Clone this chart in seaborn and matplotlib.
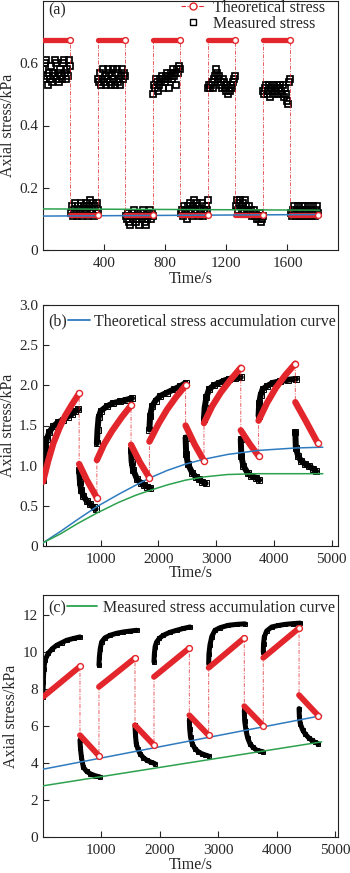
import matplotlib
matplotlib.use('Agg')
import matplotlib.pyplot as plt
from matplotlib.lines import Line2D
import seaborn as sns
import pandas as pd
import numpy as np

RED = '#e3262b'
BLUE = '#2f7bbf'
GREEN = '#2ca24e'
DASHDOT = (0, (4, 1.5, 1, 1.5))

# ---------------- panel (a): 180 s load / unload phases ----------------
a_edges = [0, 180, 360, 540, 720, 900, 1080, 1260, 1440, 1620, 1800]
a_theory = [0.675, 0.112, 0.675, 0.112, 0.675, 0.112, 0.675, 0.112, 0.675, 0.112]
a_measured = [
    [0.58, 0.55, 0.60, 0.61, 0.56, 0.53, 0.57, 0.55, 0.59, 0.54, 0.57, 0.56, 0.61, 0.60,
     0.55, 0.57, 0.54, 0.58, 0.56, 0.55, 0.60, 0.61, 0.57, 0.55, 0.58, 0.56, 0.61, 0.59],
    [0.12, 0.14, 0.11, 0.13, 0.15, 0.12, 0.11, 0.14, 0.13, 0.12, 0.15, 0.11, 0.13, 0.14,
     0.12, 0.15, 0.13, 0.11, 0.14, 0.16, 0.12, 0.13, 0.15, 0.11, 0.14, 0.12, 0.15, 0.13],
    [0.55, 0.54, 0.57, 0.53, 0.55, 0.58, 0.54, 0.56, 0.53, 0.55, 0.58, 0.57, 0.54, 0.53,
     0.56, 0.58, 0.55, 0.53, 0.57, 0.58, 0.54, 0.55, 0.53, 0.56, 0.58, 0.55, 0.57, 0.56],
    [0.11, 0.10, 0.12, 0.09, 0.08, 0.11, 0.12, 0.10, 0.13, 0.11, 0.09, 0.10, 0.12, 0.08,
     0.11, 0.12, 0.10, 0.13, 0.11, 0.09, 0.08, 0.10, 0.12, 0.11, 0.13, 0.10, 0.12, 0.11],
    [0.50, 0.53, 0.52, 0.55, 0.54, 0.51, 0.53, 0.55, 0.54, 0.56, 0.52, 0.55, 0.54, 0.56,
     0.57, 0.55, 0.52, 0.56, 0.57, 0.55, 0.58, 0.56, 0.57, 0.53, 0.58, 0.57, 0.59, 0.58],
    [0.12, 0.13, 0.11, 0.14, 0.12, 0.13, 0.10, 0.14, 0.12, 0.15, 0.13, 0.11, 0.14, 0.16,
     0.13, 0.12, 0.15, 0.14, 0.11, 0.13, 0.12, 0.15, 0.11, 0.13, 0.12, 0.14, 0.13, 0.16],
    [0.52, 0.53, 0.52, 0.53, 0.54, 0.52, 0.55, 0.56, 0.58, 0.57, 0.55, 0.56, 0.53, 0.54,
     0.52, 0.55, 0.54, 0.52, 0.51, 0.53, 0.50, 0.52, 0.51, 0.53, 0.52, 0.54, 0.55, 0.56],
    [0.14, 0.16, 0.13, 0.15, 0.16, 0.14, 0.12, 0.15, 0.13, 0.16, 0.14, 0.12, 0.13, 0.14,
     0.12, 0.13, 0.11, 0.12, 0.13, 0.11, 0.12, 0.10, 0.11, 0.10, 0.12, 0.09, 0.10, 0.11],
    [0.51, 0.50, 0.52, 0.53, 0.50, 0.51, 0.53, 0.49, 0.52, 0.51, 0.53, 0.50, 0.52, 0.51,
     0.53, 0.50, 0.52, 0.53, 0.51, 0.50, 0.53, 0.49, 0.52, 0.50, 0.48, 0.47, 0.54, 0.55],
    [0.12, 0.11, 0.13, 0.14, 0.12, 0.11, 0.13, 0.14, 0.12, 0.11, 0.13, 0.14, 0.11, 0.12,
     0.14, 0.13, 0.11, 0.12, 0.14, 0.13, 0.11, 0.12, 0.14, 0.12, 0.11, 0.13, 0.14, 0.12],
]
a_acc_t = [0, 1810]
a_acc_theory = [0.109, 0.114]
a_acc_measured = [0.132, 0.128]

# ---------------- panel (b) ----------------
b_theory_t = [
    [0, 90, 180, 280, 383, 500, 626], [626, 760, 933],
    [933, 1060, 1194, 1360, 1525], [1525, 1680, 1843],
    [1843, 2000, 2150, 2310, 2470], [2470, 2630, 2788],
    [2788, 2930, 3078, 3250, 3426], [3426, 3580, 3734],
    [3734, 3880, 4035, 4200, 4371], [4371, 4557, 4760],
]
b_theory_v = [
    [0.80, 1.06, 1.28, 1.46, 1.62, 1.76, 1.90], [1.02, 0.82, 0.60],
    [1.07, 1.27, 1.43, 1.60, 1.75], [1.26, 1.04, 0.85],
    [1.30, 1.52, 1.70, 1.86, 2.00], [1.50, 1.26, 1.06],
    [1.53, 1.74, 1.91, 2.07, 2.22], [1.44, 1.27, 1.12],
    [1.56, 1.78, 1.97, 2.13, 2.27], [1.79, 1.55, 1.28],
]
b_meas_t = [
    [0],
    [0, 15, 40, 64, 110, 180, 260, 353, 430, 499, 560, 614],
    [626, 640, 660, 701, 760, 817, 880, 910],
    [933, 945, 963, 1000, 1107, 1220, 1339, 1440, 1542],
    [1525, 1535, 1560, 1630, 1690, 1744, 1800, 1861],
    [1843, 1855, 1890, 1950, 2035, 2150, 2267, 2380, 2470],
    [2470, 2480, 2510, 2586, 2650, 2701, 2760, 2817],
    [2788, 2800, 2830, 2875, 2960, 3049, 3140, 3223, 3330, 3426],
    [3426, 3435, 3470, 3543, 3610, 3687, 3744],
    [3734, 3745, 3770, 3804, 3880, 3977, 4100, 4250, 4383],
    [4371, 4380, 4420, 4470, 4540, 4614, 4680, 4730],
]
b_meas_v = [
    [0.03],
    [0.82, 1.05, 1.22, 1.33, 1.42, 1.49, 1.54, 1.57, 1.61, 1.64, 1.68, 1.70],
    [0.95, 0.80, 0.70, 0.62, 0.56, 0.52, 0.48, 0.46],
    [1.28, 1.45, 1.60, 1.68, 1.74, 1.78, 1.80, 1.82, 1.84],
    [1.20, 1.05, 0.95, 0.83, 0.79, 0.76, 0.74, 0.72],
    [1.45, 1.62, 1.74, 1.81, 1.87, 1.91, 1.95, 1.99, 2.03],
    [1.35, 1.15, 1.02, 0.91, 0.86, 0.83, 0.80, 0.78],
    [1.58, 1.72, 1.85, 1.95, 2.00, 2.03, 2.06, 2.08, 2.09, 2.10],
    [1.33, 1.12, 1.00, 0.91, 0.87, 0.85, 0.82],
    [1.62, 1.78, 1.88, 1.95, 1.99, 2.03, 2.05, 2.07, 2.08],
    [1.42, 1.22, 1.12, 1.06, 1.02, 0.99, 0.96, 0.93],
]
b_acc_t = [0, 300, 600, 933, 1300, 1600, 1843, 2150, 2470, 2788, 3200, 3734, 4371, 4847]
b_acc_theory = [0.04, 0.18, 0.33, 0.49, 0.64, 0.755, 0.845, 0.94, 1.02, 1.08, 1.14, 1.19, 1.22, 1.23]
b_acc_measured = [0.04, 0.15, 0.28, 0.41, 0.54, 0.63, 0.69, 0.76, 0.82, 0.86, 0.89, 0.90, 0.90, 0.90]

# ---------------- panel (c) ----------------
c_theory_t = [
    [0, 633], [633, 958], [958, 1575], [1575, 1900], [1900, 2505],
    [2505, 2836], [2836, 3446], [3446, 3771], [3771, 4383], [4383, 4713],
]
c_theory_v = [
    [7.58, 9.23], [5.51, 4.39], [8.13, 9.69], [6.05, 4.97], [8.67, 10.23],
    [6.59, 5.50], [9.16, 10.78], [7.08, 6.02], [9.70, 11.31], [7.68, 6.57],
]
c_meas_t = [
    [0, 5, 15, 34, 91, 162, 234, 323, 405, 525, 633],
    [633, 641, 657, 690, 747, 805, 889, 976],
    [958, 965, 980, 1004, 1060, 1147, 1262, 1376, 1495, 1604],
    [1575, 1581, 1596, 1626, 1660, 1717, 1775, 1848, 1917],
    [1900, 1906, 1919, 1944, 1990, 2060, 2172, 2288, 2404, 2517],
    [2505, 2511, 2525, 2555, 2602, 2656, 2717, 2778, 2836],
    [2836, 2840, 2858, 2889, 2944, 3030, 3172, 3313, 3458],
    [3446, 3452, 3474, 3505, 3543, 3596, 3658, 3717, 3771],
    [3771, 3775, 3788, 3828, 3915, 4030, 4143, 4272, 4400],
    [4383, 4389, 4404, 4444, 4485, 4545, 4600, 4656, 4713],
]
c_meas_v = [
    [7.60, 8.40, 9.10, 9.57, 9.95, 10.20, 10.38, 10.52, 10.65, 10.75, 10.83],
    [5.24, 4.80, 4.34, 3.78, 3.55, 3.43, 3.32, 3.25],
    [9.30, 9.75, 10.20, 10.56, 10.78, 10.92, 11.03, 11.10, 11.15, 11.19],
    [6.05, 5.60, 5.05, 4.75, 4.51, 4.30, 4.16, 4.05, 3.97],
    [9.48, 9.90, 10.30, 10.55, 10.75, 10.92, 11.08, 11.19, 11.29, 11.37],
    [6.32, 5.85, 5.41, 5.05, 4.78, 4.62, 4.51, 4.44, 4.38],
    [9.37, 9.90, 10.40, 10.85, 11.19, 11.33, 11.46, 11.51, 11.54],
    [6.86, 6.30, 5.78, 5.35, 5.05, 4.85, 4.70, 4.65, 4.61],
    [10.01, 10.45, 10.83, 11.15, 11.37, 11.45, 11.51, 11.55, 11.58],
    [6.95, 6.50, 6.14, 5.80, 5.59, 5.38, 5.24, 5.13, 5.05],
]
c_acc_t = [0, 4770]
c_acc_theory = [3.67, 6.57]
c_acc_measured = [2.77, 5.15]


def seg_frame(ts, vs):
    rows = []
    for i, (t, v) in enumerate(zip(ts, vs)):
        rows += [(i, a, b) for a, b in zip(t, v)]
    return pd.DataFrame(rows, columns=['seg', 't', 'v'])


def draw_theory(ax, ts, vs, lw, ms):
    df = seg_frame(ts, vs)
    # thin dash-dot line through all segments gives the vertical jumps
    sns.lineplot(data=df, x='t', y='v', sort=False, estimator=None, color=RED,
                 lw=0.7, linestyle=DASHDOT, alpha=0.75, ax=ax, zorder=3)
    sns.lineplot(data=df, x='t', y='v', units='seg', sort=False, estimator=None,
                 color=RED, lw=lw, solid_capstyle='round', ax=ax, zorder=3)
    ends = df.groupby('seg').last().reset_index()
    sns.lineplot(data=ends, x='t', y='v', units='seg', estimator=None, linestyle='none',
                 marker='o', markersize=ms, markerfacecolor='white',
                 markeredgecolor=RED, markeredgewidth=1.0, ax=ax, zorder=6)


def draw_measured(ax, ts, vs, lw, ms):
    df = seg_frame(ts, vs)
    sns.lineplot(data=df, x='t', y='v', units='seg', sort=False, estimator=None,
                 color='black', lw=lw, marker='s', markersize=ms,
                 markerfacecolor='none', markeredgecolor='black',
                 markeredgewidth=0.7, ax=ax, zorder=2)


def draw_acc(ax, t, theory, measured):
    sns.lineplot(x=t, y=theory, color=BLUE, lw=1.1, ax=ax, zorder=5)
    sns.lineplot(x=t, y=measured, color=GREEN, lw=1.1, ax=ax, zorder=5)


def style_axes(ax, xlim, ylim, xticks, yticks, ylabels, xlab_y, ylab_x):
    ax.set_xlim(*xlim)
    ax.set_ylim(*ylim)
    ax.set_xticks(xticks)
    ax.set_xticklabels([str(x) for x in xticks])
    ax.set_yticks(yticks)
    ax.set_yticklabels(ylabels)
    ax.tick_params(axis='both', direction='in', length=4, width=0.8, labelsize=11,
                   top=False, right=False)
    ax.tick_params(axis='x', pad=5)
    ax.tick_params(axis='y', pad=3.5)
    for s in ax.spines.values():
        s.set_visible(True)
        s.set_linewidth(0.8)
        s.set_color('#222222')
    ax.set_xlabel('Time/s', fontsize=11.5)
    ax.set_ylabel('Axial stress/kPa', fontsize=11.5)
    ax.xaxis.set_label_coords(0.5, xlab_y)
    ax.yaxis.set_label_coords(ylab_x, 0.5)


sns.set_style('ticks')
plt.rcParams['font.family'] = ['Liberation Serif', 'DejaVu Serif']

fig = plt.figure(figsize=(3.5, 8.73), dpi=100)
L, W = 43 / 350, 295 / 350
H = 873
ax_a = fig.add_axes([L, 1 - 250 / H, W, 249 / H])
ax_b = fig.add_axes([L, 1 - 546 / H, W, 241 / H])
ax_c = fig.add_axes([L, 1 - 837 / H, W, 242 / H])

# ----- (a)
a_t = [[a_edges[i], a_edges[i + 1]] for i in range(10)]
a_v = [[lv, lv] for lv in a_theory]
meas_rows = []
for i, vals in enumerate(a_measured):
    times = np.linspace(a_edges[i] + 3, a_edges[i + 1] - 3, len(vals))
    meas_rows += [(i, t, v) for t, v in zip(times, vals)]
df_am = pd.DataFrame(meas_rows, columns=['seg', 't', 'v'])
sns.lineplot(data=df_am, x='t', y='v', units='seg', estimator=None, linestyle='none',
             marker='s', markersize=4.6, markerfacecolor='none', markeredgecolor='black',
             markeredgewidth=1.25, ax=ax_a, zorder=2)
draw_theory(ax_a, a_t, a_v, lw=3.8, ms=4.2)
draw_acc(ax_a, a_acc_t, a_acc_theory, a_acc_measured)
style_axes(ax_a, (0, 1931), (0, 0.8), [400, 800, 1200, 1600], [0, 0.2, 0.4, 0.6],
           ['0', '0.2', '0.4', '0.6'], -0.084, -0.09)
ax_a.text(0.017, 0.962, '(a)', transform=ax_a.transAxes, fontsize=11.5, va='center')
handles = [
    Line2D([], [], color=RED, lw=0.8, linestyle=DASHDOT, marker='o', ms=5,
           mfc='white', mec=RED, mew=1),
    Line2D([], [], linestyle='none', marker='s', ms=4, mfc='none', mec='black', mew=1),
]
ax_a.legend(handles, ['Theoretical stress', 'Measured stress'], loc='upper right',
            bbox_to_anchor=(0.955, 1.005), frameon=False, fontsize=11.5, handlelength=1.5,
            handletextpad=0.5, labelspacing=0.0, borderpad=0, borderaxespad=0)

# ----- (b)
draw_measured(ax_b, b_meas_t, b_meas_v, lw=4.3, ms=4)
draw_theory(ax_b, b_theory_t, b_theory_v, lw=4.6, ms=4.4)
draw_acc(ax_b, b_acc_t, b_acc_theory, b_acc_measured)
style_axes(ax_b, (0, 5110), (0, 3.0), [1000, 2000, 3000, 4000, 5000],
           [0, 0.5, 1.0, 1.5, 2.0, 2.5, 3.0],
           ['0', '0.5', '1.0', '1.5', '2.0', '2.5', '3.0'], -0.079, -0.09)
ax_b.text(0.017, 0.931, '(b)', transform=ax_b.transAxes, fontsize=11.5, va='center')
ax_b.legend([Line2D([], [], color=BLUE, lw=1.3)], ['Theoretical stress accumulation curve'],
            loc='center left', bbox_to_anchor=(0.085, 0.931), frameon=False, fontsize=11.5,
            handlelength=1.4, handletextpad=0.2, borderpad=0, borderaxespad=0)

# ----- (c)
draw_measured(ax_c, c_meas_t, c_meas_v, lw=3.6, ms=3.4)
draw_theory(ax_c, c_theory_t, c_theory_v, lw=4.2, ms=4.2)
draw_acc(ax_c, c_acc_t, c_acc_theory, c_acc_measured)
style_axes(ax_c, (0, 5050), (0, 13.1), [1000, 2000, 3000, 4000, 5000],
           [0, 2, 4, 6, 8, 10, 12], ['0', '2', '4', '6', '8', '10', '12'], -0.082, -0.083)
ax_c.text(0.017, 0.946, '(c)', transform=ax_c.transAxes, fontsize=11.5, va='center')
ax_c.legend([Line2D([], [], color=GREEN, lw=1.3)], ['Measured stress accumulation curve'],
            loc='center left', bbox_to_anchor=(0.08, 0.946), frameon=False, fontsize=11.5,
            handlelength=1.9, handletextpad=0.35, borderpad=0, borderaxespad=0)

fig.savefig('out.png', dpi=100)
